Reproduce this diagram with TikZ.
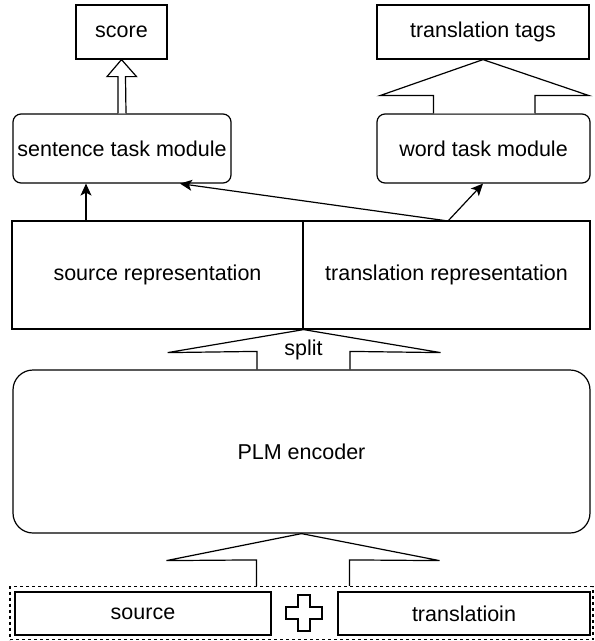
\documentclass[tikz,border=0pt]{standalone}
\usepackage{fontspec}
\setmainfont{Liberation Sans}
\usetikzlibrary{arrows.meta,calc}

\begin{document}
\begin{tikzpicture}[x=1pt, y=-1pt, line width=1.2pt,
    font=\fontsize{21.5}{26}\selectfont,
    box/.style={draw, rectangle, inner sep=0pt},
    module/.style={box, rounded corners=8pt},
    flow/.style={-{Stealth[length=12pt, width=11pt, inset=3pt]}}]
    \useasboundingbox (0,0) rectangle (595,641);

    % Outputs
    \node[box, minimum width=91pt, minimum height=54pt] (score) at (121.5,32) {score};
    \node[box, minimum width=212pt, minimum height=54pt] (tags) at (483,32) {translation tags};

    % Task modules
    \node[module, minimum width=218pt, minimum height=69pt] (sentmod) at (122,148.5) {sentence task module};
    \node[module, minimum width=213pt, minimum height=69pt] (wordmod) at (483.5,148.5) {word task module};

    % Representations after the split
    \node[box, minimum width=291pt, minimum height=108pt] (srcrep) at (157.5,275) {source representation};
    \node[box, minimum width=287pt, minimum height=108pt] (tgtrep) at (446.5,275) {translation representation};

    % Encoder
    \node[box, rounded corners=20pt, minimum width=577pt, minimum height=163pt] (plm) at (301.5,451.5) {PLM encoder};

    % Inputs
    \node[box, dashed, minimum width=583pt, minimum height=53pt] (input) at (301.5,613) {};
    \node[box, minimum width=256pt, minimum height=43pt] (src) at (143,613.5) {source};
    \node[box, minimum width=252pt, minimum height=43pt] (tgt) at (464,613.5) {translatioin};
    \coordinate (plus) at (304,613);
    \draw ($(plus)+(-6,-18)$) -- ++(12,0) -- ++(0,12) -- ++(12,0) -- ++(0,12) -- ++(-12,0)
        -- ++(0,12) -- ++(-12,0) -- ++(0,-12) -- ++(-12,0) -- ++(0,-12) -- ++(12,0) -- cycle;

    % Wide arrow: inputs into encoder
    \draw ($(input.north)+(-45,0)$) -- ++(0,-26) -- ($(plm.south)+(-135,27)$) -- (plm.south)
        -- ($(plm.south)+(138,27)$) -- ($(input.north)+(48,-26)$) -- ($(input.north)+(48,0)$);

    % Wide arrow: encoder split into the two representations
    \coordinate (apex) at (srcrep.south east);
    \draw ($(plm.north)+(-44.5,0)$) -- ++(0,-18) -- ($(apex)+(-136,23)$) -- (apex)
        -- ($(apex)+(137,23)$) -- ($(plm.north)+(48.5,-18)$) -- ($(plm.north)+(48.5,0)$);
    \node (splitlbl) at ($(apex)+(0,20)$) {split};

    % Wide arrow: word task module to tags
    \draw[fill=white] ($(wordmod.north)+(-50,0)$) -- ++(0,-18) -- ($(tags.south)+(-103,36)$) -- (tags.south)
        -- ($(tags.south)+(106,36)$) -- ($(wordmod.north)+(51.5,-18)$) -- ($(wordmod.north)+(51.5,0)$);

    % Hollow arrow: sentence task module to score
    \draw[fill=white] ($(sentmod.north)+(-4,0)$) -- ($(score.south)+(-3.5,17)$) -- ++(-11,0)
        -- (score.south) -- ($(score.south)+(15,17)$) -- ++(-11,0) -- ($(sentmod.north)+(4,0)$);

    % Connectors from the representations
    \coordinate (fork) at (448,221);
    \draw[flow] (srcrep.north -| 86,0) -- (sentmod.south -| 86,0);
    \draw[flow] (fork) -- (sentmod.south -| 180,0);
    \draw[flow] (fork) -- (wordmod.south -| 483,0);
\end{tikzpicture}
\end{document}
